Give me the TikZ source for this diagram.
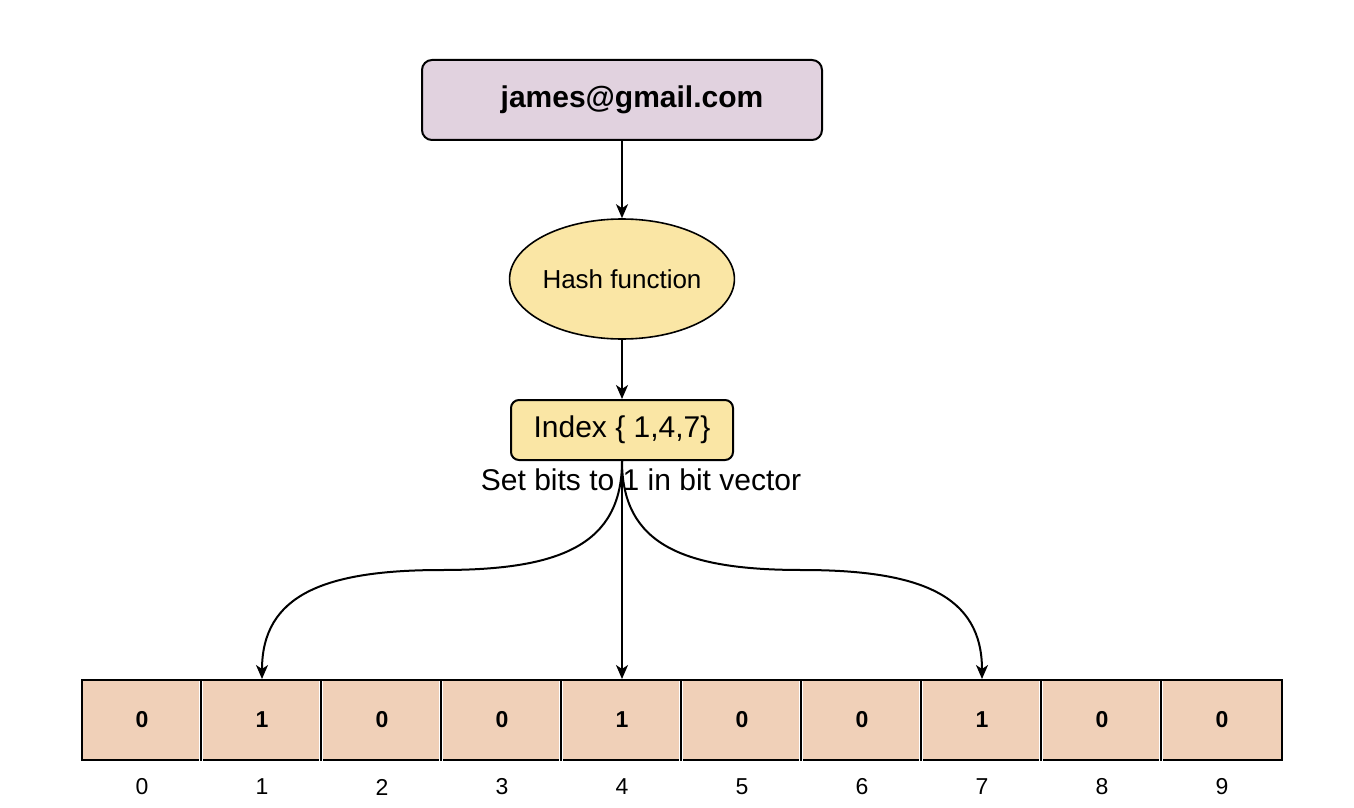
\documentclass[tikz,border=0pt]{standalone}
\usepackage{fontspec}
\setmainfont{Liberation Sans}
\usetikzlibrary{arrows.meta,shapes.geometric}
\definecolor{mailfill}{HTML}{E1D2DF}
\definecolor{hashfill}{HTML}{FAE6A5}
\definecolor{bitfill}{HTML}{F0D0B8}

\begin{document}
\begin{tikzpicture}[x=0.5pt, y=-0.5pt, >={Stealth[length=7pt,width=6pt,inset=2pt]},
  box/.style={draw, line width=1pt, rounded corners=5pt},
  bit/.style={draw, line width=1pt, fill=bitfill, minimum width=60pt, minimum height=40pt, font=\fontsize{11.5}{13}\selectfont\bfseries},
  lnk/.style={->, line width=1pt}]
\useasboundingbox (0,0) rectangle (1354,808);
% input and hash
\node[box, fill=mailfill, minimum width=200pt, minimum height=40pt, font=\fontsize{15}{18}\selectfont\bfseries] (email) at (622,100) {\hspace*{10pt}james@gmail.com};
\node[draw, line width=0.8pt, ellipse, inner sep=0pt, fill=hashfill, minimum width=110pt, minimum height=60pt, font=\fontsize{13}{15}\selectfont] (hash) at (622,279) {Hash function};
\node[box, rounded corners=4pt, fill=hashfill, minimum width=111pt, minimum height=30pt, font=\fontsize{15}{18}\selectfont] (index) at (622,430) {Index \{ 1,4,7\}};
\node[font=\fontsize{15}{18}\selectfont] (note) at (641,480) {Set bits to 1 in bit vector};
% bit vector
\foreach \i/\b in {0/0,1/1,2/0,3/0,4/1,5/0,6/0,7/1,8/0,9/0}{
  \node[bit] (cell\i) at (142+120*\i,720) {\b};
  \node[font=\fontsize{11.5}{13}\selectfont] (num\i) at (142+120*\i,787) {\i};
}
% gaps between cells
\foreach \i in {1,...,9}{
  \draw[white, line width=2pt] (cell\i.north west) ++(0,2) -- (cell\i.south west) ++(0,-2);
  \draw[line width=1pt] (cell\i.north west) -- (cell\i.south west);
}
\coordinate (bendl) at (442,570);
\coordinate (bendr) at (802,570);
% arrows
\draw[lnk] (email) -- (hash);
\draw[lnk] (hash) -- (index);
\draw[lnk] (index.south) .. controls (622,545) and (560,570) .. (bendl)
  .. controls (324,570) and (262,595) .. (cell1.north);
\draw[lnk] (index.south) -- (cell4.north);
\draw[lnk] (index.south) .. controls (622,545) and (684,570) .. (bendr)
  .. controls (920,570) and (982,595) .. (cell7.north);
\end{tikzpicture}
\end{document}
